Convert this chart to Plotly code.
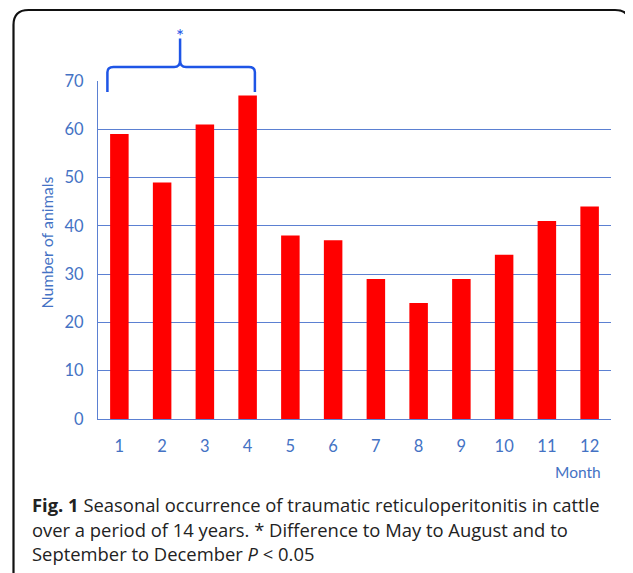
import plotly.graph_objects as go

months = ["1", "2", "3", "4", "5", "6", "7", "8", "9", "10", "11", "12"]
animals = [59, 49, 61, 67, 38, 37, 29, 24, 29, 34, 41, 44]
y_ticks = [0, 10, 20, 30, 40, 50, 60, 70]
caption_lines = [
    "<b>Fig. 1</b> Seasonal occurrence of traumatic reticuloperitonitis in cattle",
    "over a period of 14 years. * Difference to May to August and to",
    "September to December <i>P</i> &lt; 0.05",
]

# the page body has an 8px margin, so the figure is drawn 8px in from the window edge
OFF = 8
W, H = 625, 565
ML, MR, MT, MB = 90, 22, 73, 154
PW, PH = W - ML - MR, H - MT - MB
YMAX = 70
BLUE = "#4472C4"
GRID = "#5B80D2"
BRACE = "#1E55E6"
TXT_FONT = "Lato, Calibri, sans-serif"


def px_x(px):
    return (px - OFF - ML) / PW


def px_y(py):
    return (OFF + MT + PH - py) / PH


def cat_x(c):
    return (c + 0.5) / len(months)


def val_y(v):
    return v / YMAX


fig = go.Figure()
fig.add_trace(go.Bar(x=months, y=animals, marker=dict(color="#FF0000", line=dict(width=0))))

# curly bracket over months 1-4 (category index units / value units)
left, right, mid = -0.28, 3.17, 1.42
y_end, y_h, y_cusp, y_peak = 67.7, 72.9, 74.3, 78.8
rx, ry = 0.14, 1.1


def P(c, v):
    return f"{cat_x(c):.5f},{val_y(v):.5f}"


brace = (
    f"M{P(left, y_end)} L{P(left, y_h - ry)} Q{P(left, y_h)} {P(left + rx, y_h)} "
    f"L{P(mid - rx, y_h)} Q{P(mid, y_h)} {P(mid, y_cusp)} L{P(mid, y_peak)} "
    f"M{P(mid, y_cusp)} Q{P(mid, y_h)} {P(mid + rx, y_h)} "
    f"L{P(right - rx, y_h)} Q{P(right, y_h)} {P(right, y_h - ry)} L{P(right, y_end)}"
)
fig.add_shape(type="path", path=brace, xref="x domain", yref="y domain",
              line=dict(color=BRACE, width=2.5))
fig.add_annotation(text="*", x=cat_x(mid), y=val_y(76.6), xref="x domain", yref="y domain",
                   xanchor="center", yanchor="bottom", showarrow=False,
                   font=dict(family=TXT_FONT, size=19, color=BRACE))

# outer rounded frame (bottom edge runs off the picture)
x0, x1, y0, y1, r = px_x(13.5), px_x(630), px_y(10), px_y(600), 15
rxp, ryp = r / PW, r / PH
frame = (
    f"M{x0},{y1} L{x0},{y0 - ryp} Q{x0},{y0} {x0 + rxp},{y0} "
    f"L{x1 - rxp},{y0} Q{x1},{y0} {x1},{y0 - ryp} L{x1},{y1}"
)
fig.add_shape(type="path", path=frame, xref="paper", yref="paper",
              line=dict(color="#111111", width=2.2))

# axis titles
fig.add_annotation(text="Number of animals", x=px_x(46), y=px_y(242.5), xref="paper", yref="paper",
                   textangle=-90, showarrow=False, xanchor="center", yanchor="middle",
                   font=dict(family=TXT_FONT, size=16, color=BLUE))
fig.add_annotation(text="Month", x=px_x(578), y=px_y(472), xref="paper", yref="paper",
                   showarrow=False, xanchor="center", yanchor="middle",
                   font=dict(family=TXT_FONT, size=15.5, color=BLUE))

# caption
for i, line in enumerate(caption_lines):
    fig.add_annotation(text=line, x=px_x(30), y=px_y(504.5 + 24.6 * i), xref="paper", yref="paper",
                       showarrow=False, xanchor="left", yanchor="middle", align="left",
                       font=dict(family="Open Sans, Noto Sans, sans-serif", size=18.4, color="#222222"))

fig.update_layout(
    width=W, height=H,
    margin=dict(l=ML, r=MR, t=MT, b=MB, pad=0),
    paper_bgcolor="white", plot_bgcolor="white",
    showlegend=False, bargap=0.567,
    font=dict(family=TXT_FONT, color=BLUE),
)
fig.update_xaxes(type="category", showgrid=False, showline=True, linecolor=GRID, linewidth=1.2,
                 ticks="outside", ticklen=12, tickcolor="rgba(0,0,0,0)",
                 tickfont=dict(family=TXT_FONT, size=16.5, color=BLUE), zeroline=False)
fig.update_yaxes(range=[0, YMAX], tickvals=y_ticks, showgrid=True, gridcolor=GRID, gridwidth=1,
                 showline=True, linecolor=GRID, linewidth=1.2, zeroline=False,
                 ticks="outside", ticklen=10, tickcolor="rgba(0,0,0,0)",
                 tickfont=dict(family=TXT_FONT, size=16.5, color=BLUE))

fig.write_html("out.html")
